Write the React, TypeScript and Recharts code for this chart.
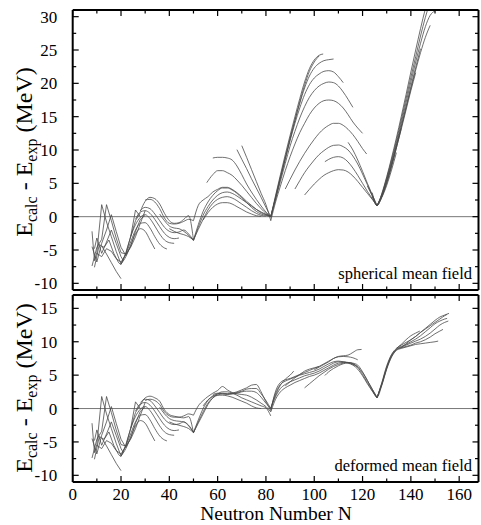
import { Line, LineChart, ReferenceLine, XAxis, YAxis } from 'recharts'

// each chain is a list of [N, E_calc - E_exp] points
type Chain = number[][]

const xTicks = [0, 10, 20, 30, 40, 50, 60, 70, 80, 90, 100, 110, 120, 130, 140, 150, 160]
const sphTicks = [-10, -7.5, -5, -2.5, 0, 2.5, 5, 7.5, 10, 12.5, 15, 17.5, 20, 22.5, 25, 27.5, 30]
const defTicks = [-10, -7.5, -5, -2.5, 0, 2.5, 5, 7.5, 10, 12.5, 15]

// light nuclei, same in both fits
const lightChains: Chain[] = [
  [[8, -2.2], [9, -6.6], [10, -5.4], [12, 1.8], [14, -0.8], [16, -3.0], [18, -5.2], [20, -7.1], [22, -5.6]],
  [[8, -7.4], [10, -4.6], [12, -3.4], [14, 1.8], [16, -0.6], [18, -3.2], [20, -5.4], [22, -5.6], [24, -3.0], [26, 1.0], [28, 0.0]],
  [[8, -4.5], [10, -6.8], [12, -4.0], [14, -2.0], [16, 0.3], [18, -2.2], [20, -4.6], [22, -5.8], [24, -4.4], [26, -2.2], [28, -0.4], [30, 0.2]],
  [[9, -7.6], [11, -4.2], [13, -4.6], [15, -3.5], [17, -5.5], [19, -6.9], [20, -7.2], [22, -5.4], [24, -3.0], [26, -0.6], [28, 0.6]],
  [[10, -5.5], [12, -6.0], [14, -4.8], [16, -5.2], [18, -6.3], [20, -6.8], [22, -5.7], [24, -4.6], [26, -3.0], [28, -1.0], [30, 0.9]],
  [[12, -4.4], [14, -5.6], [16, -6.9], [18, -8.2], [20, -9.3]],
  [[9, -4.8], [10, -3.2], [12, -5.5], [14, -3.8], [16, -2.0], [18, -4.0], [20, -6.0], [21, -6.6]],
]

const shellChains: Chain[] = [
  [[20, -7.1], [22, -6.0], [24, -4.3], [26, -2.6], [28, -1.8], [30, -2.2], [32, -3.5], [34, -4.85]],
  [[22, -5.6], [24, -3.8], [26, -2.0], [28, -1.0], [30, -0.9], [32, -1.7], [34, -3.0], [36, -4.1], [38, -4.7], [39, -4.85]],
  [[24, -3.0], [26, -1.2], [28, -0.1], [30, 0.3], [32, -0.3], [34, -1.4], [36, -2.6], [38, -3.5], [40, -3.9], [42, -4.0]],
  [[26, -0.4], [28, 0.7], [30, 0.9], [32, 0.5], [34, -0.4], [36, -1.5], [38, -2.5], [40, -3.1], [42, -3.3], [44, -3.2]],
  [[28, 0.9], [30, 1.4], [32, 1.2], [34, 0.4], [36, -0.6], [38, -1.6], [40, -2.2], [42, -2.4], [44, -2.3], [46, -2.0], [48, -2.6], [50, -3.5]],
]

// spherical mean field
const sphMidChains: Chain[] = [
  [[28, 0.8], [30, 2.3], [32, 2.9], [34, 2.7], [36, 1.9], [38, 0.5], [40, -0.6], [42, -1.0], [44, -0.9], [46, -0.4], [48, 0.15], [50, -3.5]],
  [[30, 2.5], [32, 2.6], [34, 2.2], [36, 1.2], [38, -0.2], [40, -1.0], [42, -1.1], [44, -1.0], [46, -0.7], [48, -0.4], [50, -0.6]],
  [[36, 0.4], [38, -0.6], [40, -1.4], [42, -1.7], [44, -1.8], [46, -2.2], [48, -2.8], [50, -3.6]],
  [[40, -1.8], [42, -2.2], [44, -2.5], [46, -2.7], [48, -3.0], [50, -3.5]],
  [[50, -3.5], [52, -1.2], [54, 0.8], [56, 2.2], [58, 3.2], [60, 3.9], [62, 4.3], [64, 4.3], [66, 4.0], [68, 3.5], [70, 2.8], [72, 2.1], [74, 1.4], [76, 0.8], [78, 0.4], [80, 0.2], [82, 0]],
  [[50, -3.6], [52, -1.6], [54, 0.2], [56, 1.5], [58, 2.5], [60, 3.2], [62, 3.6], [64, 3.7], [66, 3.5], [68, 3.1], [70, 2.6], [72, 2.1], [74, 1.6], [76, 1.1], [78, 0.7], [80, 0.35], [82, 0]],
  [[50, -3.5], [52, -1.9], [54, -0.4], [56, 1.0], [58, 2.0], [60, 2.6], [62, 2.9], [64, 3.0], [66, 2.8], [68, 2.4], [70, 1.9], [72, 1.4], [74, 0.9], [76, 0.5], [78, 0.2], [80, 0.1]],
  [[54, -0.5], [56, 0.6], [58, 1.4], [60, 1.9], [62, 2.1], [64, 2.1], [66, 1.9], [68, 1.5], [70, 1.1], [72, 0.7], [74, 0.4], [76, 0.15], [78, 0.05]],
  [[50, -0.6], [52, 1.7], [54, 2.5], [56, 3.0], [58, 3.7], [60, 4.1], [62, 4.4], [64, 4.4], [66, 4.1], [68, 3.6], [70, 3.0], [72, 2.3], [74, 1.7], [76, 1.1], [78, 0.6], [80, 0.3], [82, 0]],
  [[55.5, 5.1], [58, 6.3], [60, 6.9], [62, 6.9], [64, 6.6], [66, 6.2], [68, 5.5], [70, 4.7], [72, 3.8], [74, 2.9], [76, 2.0], [78, 1.2], [80, 0.5], [82, 0]],
  [[58, 8.8], [60, 8.9], [62, 8.9], [64, 8.8], [66, 8.5], [68, 7.6], [70, 6.3], [72, 4.9], [74, 3.7], [76, 2.6], [78, 1.6], [80, 0.7], [82, 0]],
  [[68, 10.05], [70, 8.6], [72, 7.2], [74, 5.7], [76, 4.3], [78, 2.9], [80, 1.4], [82, 0]],
  [[70, 10.65], [72, 8.9], [74, 7.1], [76, 5.3], [78, 3.5], [80, 1.8], [82, -0.6]],
]

const sphHeavyChains: Chain[] = [
  [[82, 0], [84, 3.2], [86, 6.3], [88, 9.3], [90, 12.2], [92, 15.0], [94, 17.7], [96, 20.2], [98, 22.2], [100, 23.5], [102, 24.2], [103.7, 24.4]],
  [[82, 0], [84, 2.8], [86, 5.8], [88, 8.7], [90, 11.6], [92, 14.4], [94, 17.2], [96, 19.7], [98, 21.8], [100, 23.2], [102, 24.1]],
  [[82, -0.1], [84, 3.0], [86, 6.0], [88, 8.9], [90, 11.8], [92, 14.5], [94, 17.0], [96, 19.3], [98, 21.1], [100, 22.3], [102, 23.0], [104, 23.4], [106, 23.55], [108, 23.65]],
  [[82, 0], [84, 2.8], [86, 5.7], [88, 8.6], [90, 11.4], [92, 14.0], [94, 16.3], [96, 18.3], [98, 19.8], [100, 20.8], [102, 21.4], [104, 21.8], [106, 21.9], [108, 21.7], [110, 21.0], [112, 20.1]],
  [[82, 0], [84, 2.6], [86, 5.3], [88, 8.0], [90, 10.6], [92, 12.8], [94, 14.8], [96, 16.5], [98, 17.9], [100, 18.9], [102, 19.6], [104, 20.0], [106, 20.2], [108, 20.1], [110, 19.6], [112, 18.7], [114, 17.6], [116, 16.4]],
  [[82, -0.6], [84, 2.2], [86, 4.6], [88, 6.9], [90, 9.0], [92, 10.9], [94, 12.6], [96, 14.0], [98, 15.3], [100, 16.3], [102, 17.0], [104, 17.4], [106, 17.5], [108, 17.4], [110, 17.0], [112, 16.3], [114, 15.3], [116, 14.2], [118, 13.3], [120, 12.5]],
  [[88, 4.15], [90, 5.6], [92, 7.0], [94, 8.3], [96, 9.5], [98, 10.6], [100, 11.6], [102, 12.5], [104, 13.2], [106, 13.7], [108, 14.0], [110, 14.0], [112, 13.7], [114, 13.1], [116, 12.3], [118, 11.3], [120, 10.2], [121.7, 9.4]],
  [[92, 4.15], [94, 5.4], [96, 6.6], [98, 7.6], [100, 8.5], [102, 9.3], [104, 9.9], [106, 10.4], [108, 10.7], [110, 10.75], [112, 10.5], [114, 10.0], [116, 9.1], [118, 7.9], [120, 6.4], [122, 4.8], [124, 3.2], [126, 1.65]],
  [[104.4, 8.25], [106, 8.6], [108, 8.9], [110, 9.0], [112, 8.8], [114, 8.2], [116, 7.3], [118, 6.2], [120, 5.0], [122, 3.8], [124, 2.7], [126, 1.65]],
  [[96, 3.25], [98, 4.1], [100, 4.9], [102, 5.6], [104, 6.2], [106, 6.6], [108, 6.9], [110, 7.05], [112, 7.0], [114, 6.7], [116, 6.1], [118, 5.3], [120, 4.4], [122, 3.5], [124, 2.6], [126, 1.65]],
  [[114, 11.15], [116, 10.0], [118, 8.5], [120, 6.8], [122, 5.0], [124, 3.3], [126, 1.65]],
]

const sphActinideChains: Chain[] = [
  [[124, 3.6], [126, 1.65], [128, 3.5], [130, 6.0], [132, 8.8], [134, 11.8], [136, 15.0], [138, 18.3], [140, 21.7], [142, 25.0], [144, 28.2], [146, 31.2], [148, 33.8]],
  [[126, 1.65], [128, 3.4], [130, 5.8], [132, 8.5], [134, 11.4], [136, 14.5], [138, 17.7], [140, 20.9], [142, 24.0], [144, 27.1], [146, 29.9], [148, 32.3]],
  [[126, 1.65], [128, 3.3], [130, 5.6], [132, 8.2], [134, 11.0], [136, 14.0], [138, 17.1], [140, 20.2], [142, 23.2], [144, 26.0], [146, 28.5], [148, 30.2], [150, 30.9], [152, 31.3]],
  [[126, 1.65], [128, 3.2], [130, 5.4], [132, 7.9], [134, 10.6], [136, 13.4], [138, 16.3], [140, 19.2], [142, 22.0], [144, 24.6], [146, 26.9], [148, 28.7]],
  [[126, 1.65], [128, 3.1], [130, 5.3], [132, 7.8], [134, 10.6], [136, 13.5], [138, 16.5], [140, 19.5], [142, 22.4], [144, 25.2]],
  [[126, 1.65], [128, 3.0], [130, 5.1], [132, 7.6], [134, 10.3], [136, 13.1], [138, 16.0], [140, 18.9], [142, 21.6]],
  [[124, 3.0], [126, 1.7], [128, 3.0], [130, 5.0], [132, 7.5], [134, 10.3], [136, 13.2]],
  [[122, 4.6], [124, 3.1], [126, 1.7], [128, 2.9], [130, 4.7], [132, 7.0], [134, 9.6]],
]

// deformed mean field
const defMidChains: Chain[] = [
  [[28, 0.5], [30, 1.6], [32, 1.85], [34, 1.6], [36, 1.1], [38, -0.2], [40, -0.9], [42, -1.15], [44, -1.3], [46, -1.4], [48, -1.2], [50, -3.65]],
  [[30, 1.2], [32, 1.4], [34, 1.2], [36, 0.6], [38, -0.5], [40, -1.1], [42, -1.3], [44, -1.3], [46, -1.1], [48, -0.8], [50, -1.0]],
  [[36, 0.2], [38, -0.8], [40, -1.5], [42, -1.8], [44, -1.9], [46, -2.0], [48, -2.5], [50, -3.6]],
  [[40, -2.0], [42, -2.3], [44, -2.5], [46, -2.7], [48, -3.0], [50, -3.6]],
  [[50, -3.65], [52, -2.0], [54, -0.5], [56, 0.8], [58, 1.6], [60, 2.0], [62, 2.2], [64, 2.2], [66, 2.3], [68, 2.5], [70, 2.8], [72, 3.1], [74, 3.5], [76, 3.6], [78, 2.5], [80, 1.0], [82, -0.3]],
  [[50, -3.6], [52, -1.7], [54, 0.0], [56, 1.2], [58, 1.9], [60, 2.2], [62, 2.3], [64, 2.2], [66, 2.2], [68, 2.3], [70, 2.5], [72, 2.6], [74, 2.6], [76, 2.4], [78, 1.7], [80, 0.8], [82, 0]],
  [[50, -1.0], [52, 0.4], [54, 1.2], [56, 1.8], [58, 2.3], [60, 2.7], [62, 3.3], [64, 2.8], [66, 2.4], [68, 2.2], [70, 2.1], [72, 2.0], [74, 1.7], [76, 1.3], [78, 0.8], [80, 0.3], [82, -0.5]],
  [[54, 0.4], [56, 1.3], [58, 1.8], [60, 2.0], [62, 2.0], [64, 1.9], [66, 1.7], [68, 1.4], [70, 1.1], [72, 0.8], [74, 0.4], [76, 0.1], [78, 0.0]],
  [[50, -3.6], [52, -2.2], [54, -0.8], [56, 0.6], [58, 1.6], [60, 2.2], [62, 2.5], [64, 2.5], [66, 2.3], [68, 2.0], [70, 1.6], [72, 1.3], [74, 1.0], [76, 0.7], [78, 0.4], [80, 0.1], [82, -1.1]],
  [[58, 2.1], [60, 2.3], [62, 2.2], [64, 2.1], [66, 2.2], [68, 2.4], [70, 2.6], [72, 2.9], [74, 3.0], [76, 3.0], [78, 2.2], [80, 1.2], [82, 0]],
]

const defHeavyChains: Chain[] = [
  [[82, -0.3], [84, 2.6], [86, 3.9], [88, 4.3], [90, 4.5], [92, 4.8], [94, 5.1], [96, 5.4], [98, 5.7], [100, 6.0], [102, 6.3], [104, 6.7], [106, 7.1], [108, 7.5], [110, 7.8], [112, 7.9], [114, 8.0], [116, 8.4], [118, 8.8], [119.6, 8.85]],
  [[82, 0], [84, 2.3], [86, 3.6], [88, 4.1], [90, 4.4], [92, 4.7], [94, 5.0], [96, 5.2], [98, 5.4], [100, 5.6], [102, 5.9], [104, 6.3], [106, 6.7], [108, 7.0], [110, 7.1], [112, 7.0], [114, 6.9], [116, 6.7], [118, 6.2], [120, 5.1], [122, 3.9], [124, 2.7], [126, 1.6]],
  [[82, 0], [84, 1.8], [86, 3.0], [88, 3.6], [90, 4.0], [92, 4.3], [94, 4.6], [96, 4.9], [98, 5.1], [100, 5.3], [102, 5.6], [104, 6.0], [106, 6.4], [108, 6.8], [110, 7.0], [112, 7.0], [114, 6.8], [116, 6.5], [118, 5.9], [120, 4.9], [122, 3.7], [124, 2.6], [126, 1.6]],
  [[82, -0.5], [84, 1.4], [86, 2.5], [88, 3.1], [90, 3.5], [92, 3.9], [94, 4.2], [96, 4.5], [98, 4.8], [100, 5.0], [102, 5.3], [104, 5.7], [106, 6.1], [108, 6.5], [110, 6.8], [112, 6.9], [114, 6.9], [116, 6.8], [118, 6.5], [120, 5.5], [122, 4.2], [124, 2.9], [126, 1.7]],
  [[82, 0], [84, 2.0], [86, 3.5], [88, 4.4], [90, 5.0], [91.5, 5.6]],
  [[96, 3.1], [98, 3.7], [100, 4.3], [102, 4.9], [104, 5.4], [106, 5.9], [108, 6.3], [110, 6.6], [112, 6.8], [114, 6.9], [116, 6.7], [118, 6.25]],
  [[104.4, 4.95], [106, 5.5], [108, 6.0], [110, 6.4], [112, 6.7], [114, 6.8], [116, 6.6], [118, 6.2], [120, 5.4], [122, 4.2], [124, 2.9], [126, 1.6]],
  [[100, 5.8], [102, 6.2], [104, 6.6], [106, 7.0], [108, 7.5], [110, 7.75], [112, 7.8], [114, 7.75], [116, 7.6], [118, 7.3]],
  [[88, 3.4], [90, 4.0], [92, 4.6], [94, 5.1], [96, 5.6], [98, 5.9], [100, 6.1], [102, 6.3]],
]

const defActinideChains: Chain[] = [
  [[126, 1.6], [128, 3.9], [130, 6.4], [132, 8.1], [134, 9.0], [136, 9.5], [138, 9.9], [140, 10.3], [142, 10.8], [144, 11.4], [146, 12.0], [148, 12.6], [150, 13.2], [152, 13.7], [154, 14.0], [155.8, 14.25]],
  [[126, 1.6], [128, 3.8], [130, 6.2], [132, 8.0], [134, 8.9], [136, 9.3], [138, 9.6], [140, 10.0], [142, 10.4], [144, 10.9], [146, 11.5], [148, 12.1], [150, 12.7], [152, 13.1], [154, 13.4], [155, 13.5]],
  [[126, 1.7], [128, 3.6], [130, 6.0], [132, 7.8], [134, 8.8], [136, 9.2], [138, 9.5], [140, 9.8], [142, 10.1], [144, 10.4], [146, 10.8], [148, 11.3], [150, 11.9], [152, 12.5], [154, 12.9], [155.5, 13.1]],
  [[126, 1.6], [128, 3.7], [130, 6.1], [132, 7.9], [134, 8.8], [136, 9.1], [138, 9.3], [140, 9.5], [142, 9.8], [144, 10.0], [146, 10.3], [148, 10.7], [150, 11.2], [152, 11.6], [153.3, 11.85]],
  [[124, 2.8], [126, 1.7], [128, 3.5], [130, 5.9], [132, 7.7], [134, 8.7], [136, 9.0], [138, 9.2], [140, 9.4], [142, 9.6], [144, 9.7], [146, 9.8], [148, 9.9], [150, 10.0], [151.3, 10.1]],
  [[134, 9.0], [136, 9.6], [138, 10.3], [140, 10.9], [142, 11.3], [143.7, 11.6]],
  [[136, 9.1], [138, 9.7], [140, 10.3], [142, 10.8], [144, 11.4], [146, 11.9], [148, 12.4], [150, 12.9], [152, 13.4], [154, 13.9], [155, 14.1]],
]

const serif = 'Liberation Serif, DejaVu Serif, serif'
const lineColor = '#4a4a4a'

const toPoints = (c: Chain) => c.map(([n, e]) => ({ n, e }))

// ticks point into the plot; labels only where asked
const bottomTick = (labelled: boolean) => (props: any) => {
  const { x, y, payload } = props
  const major = payload.value % 20 === 0
  return (
    <g>
      <line x1={x} x2={x} y1={y} y2={y - (major ? 6 : 3.5)} stroke="#000" strokeWidth={1.2} />
      {labelled && major && (
        <text x={x} y={y + 17.5} textAnchor="middle" style={{ fontSize: 17, fontFamily: serif }} fill="#000">
          {payload.value}
        </text>
      )}
    </g>
  )
}

const topTick = (props: any) => {
  const { x, y, payload } = props
  const major = payload.value % 20 === 0
  return <line x1={x} x2={x} y1={y} y2={y + (major ? 6 : 3.5)} stroke="#000" strokeWidth={1.2} />
}

const leftTick = (props: any) => {
  const { x, y, payload } = props
  const major = payload.value % 5 === 0
  return (
    <g>
      <line x1={x} x2={x + (major ? 6 : 3.5)} y1={y} y2={y} stroke="#000" strokeWidth={1.2} />
      {major && (
        <text x={x - 15.5} y={y + 6} textAnchor="end" style={{ fontSize: 17, fontFamily: serif }} fill="#000">
          {payload.value}
        </text>
      )}
    </g>
  )
}

const rightTick = (props: any) => {
  const { x, y, payload } = props
  const major = payload.value % 5 === 0
  return <line x1={x} x2={x - (major ? 6 : 3.5)} y1={y} y2={y} stroke="#000" strokeWidth={1.2} />
}

type PanelProps = {
  groups: { chains: Chain[]; curve: 'linear' | 'monotone' }[]
  yDomain: [number, number]
  yTicks: number[]
  height: number
  margin: { top: number; right: number; bottom: number; left: number }
  xLabels: boolean
}

function Panel(props: PanelProps) {
  const { groups, yDomain, yTicks, height, margin, xLabels } = props
  const frame = { stroke: '#000', strokeWidth: 2 }
  return (
    <LineChart width={481} height={height} margin={margin}>
      <XAxis
        dataKey="n"
        type="number"
        domain={[0, 168]}
        ticks={xTicks}
        interval={0}
        allowDataOverflow
        height={1}
        tickSize={0}
        tickMargin={0}
        axisLine={frame}
        tickLine={false}
        tick={bottomTick(xLabels)}
      />
      <XAxis
        xAxisId="top"
        orientation="top"
        dataKey="n"
        type="number"
        domain={[0, 168]}
        ticks={xTicks}
        interval={0}
        allowDataOverflow
        height={1}
        tickSize={0}
        tickMargin={0}
        axisLine={frame}
        tickLine={false}
        tick={topTick}
      />
      <YAxis
        type="number"
        domain={yDomain}
        ticks={yTicks}
        interval={0}
        allowDataOverflow
        width={1}
        tickSize={0}
        tickMargin={0}
        axisLine={frame}
        tickLine={false}
        tick={leftTick}
      />
      <YAxis
        yAxisId="right"
        orientation="right"
        type="number"
        domain={yDomain}
        ticks={yTicks}
        interval={0}
        allowDataOverflow
        width={1}
        tickSize={0}
        tickMargin={0}
        axisLine={frame}
        tickLine={false}
        tick={rightTick}
      />
      <ReferenceLine y={0} stroke="#555" strokeWidth={0.8} />
      {groups.map((g, gi) =>
        g.chains.map((c, ci) => (
          <Line
            key={`${gi}-${ci}`}
            data={toPoints(c)}
            dataKey="e"
            type={g.curve}
            stroke={lineColor}
            strokeWidth={0.8}
            dot={false}
            activeDot={false}
            isAnimationActive={false}
          />
        )),
      )}
    </LineChart>
  )
}

const titleStyle = { fontSize: 24, fontFamily: serif }

export default function App() {
  return (
    <div style={{ position: 'absolute', left: 0, top: 0, width: 481, height: 525, background: '#fff' }}>
      <div style={{ position: 'absolute', left: 0, top: 0 }}>
        <Panel
          groups={[
            { chains: lightChains, curve: 'linear' },
            { chains: shellChains, curve: 'monotone' },
            { chains: sphMidChains, curve: 'monotone' },
            { chains: sphHeavyChains, curve: 'monotone' },
            { chains: sphActinideChains, curve: 'monotone' },
          ]}
          yDomain={[-11, 31]}
          yTicks={sphTicks}
          height={292}
          margin={{ top: 9, right: 1.5, bottom: 1, left: 71.7 }}
          xLabels={false}
        />
      </div>
      <div style={{ position: 'absolute', left: 0, top: 292 }}>
        <Panel
          groups={[
            { chains: lightChains, curve: 'linear' },
            { chains: shellChains, curve: 'monotone' },
            { chains: defMidChains, curve: 'monotone' },
            { chains: defHeavyChains, curve: 'monotone' },
            { chains: defActinideChains, curve: 'monotone' },
          ]}
          yDomain={[-11, 17]}
          yTicks={defTicks}
          height={233}
          margin={{ top: 2, right: 1.5, bottom: 42, left: 71.7 }}
          xLabels
        />
      </div>
      <svg width={481} height={525} style={{ position: 'absolute', left: 0, top: 0, pointerEvents: 'none' }}>
        <text x={472} y={279} textAnchor="end" style={{ fontSize: 16.5, fontFamily: serif }}>
          spherical mean field
        </text>
        <text x={472} y={471} textAnchor="end" style={{ fontSize: 16.5, fontFamily: serif }}>
          deformed mean field
        </text>
        <text x={276} y={520} textAnchor="middle" style={{ fontSize: 19.5, fontFamily: serif }}>
          Neutron Number N
        </text>
        <text transform="translate(32,152) rotate(-90)" textAnchor="middle" style={titleStyle}>
          E<tspan fontSize={16} dy={5}>calc</tspan>
          <tspan dy={-5}> - E</tspan>
          <tspan fontSize={16} dy={5}>exp</tspan>
          <tspan dy={-5}> (MeV)</tspan>
        </text>
        <text transform="translate(32,388) rotate(-90)" textAnchor="middle" style={titleStyle}>
          E<tspan fontSize={16} dy={5}>calc</tspan>
          <tspan dy={-5}> - E</tspan>
          <tspan fontSize={16} dy={5}>exp</tspan>
          <tspan dy={-5}> (MeV)</tspan>
        </text>
      </svg>
    </div>
  )
}
